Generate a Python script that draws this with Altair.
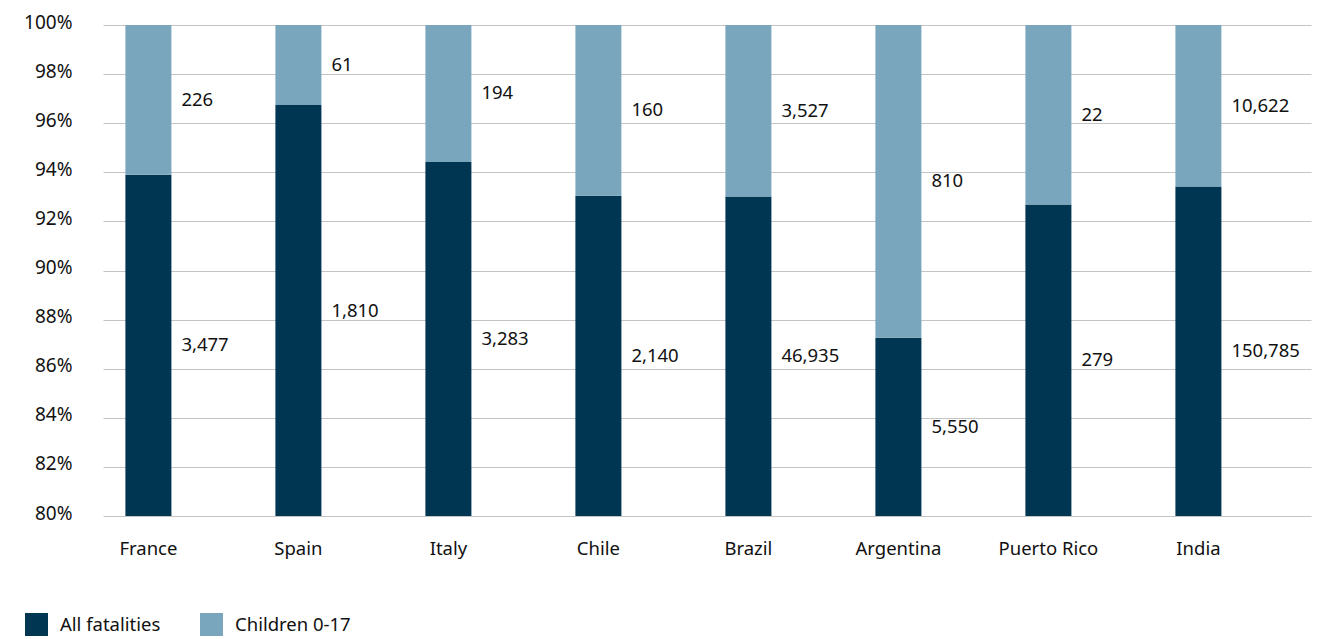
import altair as alt
import pandas as pd

# Countries and fatality counts split into adults (all fatalities) and children
countries = ["France", "Spain", "Italy", "Chile", "Brazil", "Argentina", "Puerto Rico", "India"]
all_fatalities = [3477, 1810, 3283, 2140, 46935, 5550, 279, 150785]
children = [226, 61, 194, 160, 3527, 810, 22, 10622]

series = ["All fatalities", "Children 0-17"]
colors = ["#003652", "#7aa6bd"]
y_ticks = [0.80, 0.82, 0.84, 0.86, 0.88, 0.90, 0.92, 0.94, 0.96, 0.98, 1.00]
y_floor = 0.80

FONT = "Noto Sans"
FS = 18.5
INK = "#111111"

rows = []
for c, a, k in zip(countries, all_fatalities, children):
    total = a + k
    share = a / total
    rows.append({"country": c, "series": series[0], "value": a,
                 "lo": 0.0, "hi": share,
                 "mid": (y_floor + share) / 2,
                 "label": f"{a:,}"})
    rows.append({"country": c, "series": series[1], "value": k,
                 "lo": share, "hi": 1.0,
                 "mid": (share + 1.0) / 2,
                 "label": f"{k:,}"})
df = pd.DataFrame(rows)

x_enc = alt.X(
    "country:N",
    sort=countries,
    title=None,
    scale=alt.Scale(paddingInner=0.6933, paddingOuter=0.3733, align=0.2),
    axis=alt.Axis(labelAngle=0, ticks=False, domain=False, grid=False, labelPadding=23,
                  labelFont=FONT, labelFontSize=FS, labelColor=INK),
)

y_scale = alt.Scale(domain=[y_floor, 1.0], clamp=True, nice=False, zero=False)

bars = alt.Chart(df).mark_bar().encode(
    x=x_enc,
    y=alt.Y("lo:Q", scale=y_scale, title=None,
            axis=alt.Axis(values=y_ticks, format=".0%", ticks=False, domain=False,
                          grid=True, gridColor="#c4c4c4", gridWidth=1.2,
                          labelPadding=31, labelOffset=-3,
                          labelFont=FONT, labelFontSize=19, labelColor=INK)),
    y2="hi:Q",
    color=alt.Color("series:N", scale=alt.Scale(domain=series, range=colors),
                    sort=series,
                    legend=alt.Legend(title=None, orient="none", direction="horizontal",
                                      legendX=-78, legendY=588,
                                      symbolType="square", symbolSize=529,
                                      symbolStrokeWidth=0, labelOffset=12,
                                      columnPadding=39, padding=0,
                                      labelFont=FONT, labelFontSize=FS,
                                      labelColor=INK)),
    order=alt.Order("lo:Q"),
)

labels = alt.Chart(df).mark_text(
    align="left", baseline="middle", dx=33, font=FONT, fontSize=FS, color=INK
).encode(
    x=alt.X("country:N", sort=countries),
    y=alt.Y("mid:Q", scale=y_scale),
    text="label:N",
)

chart = alt.layer(bars, labels).properties(
    width=1208,
    height=491,
    autosize=alt.AutoSizeParams(type="none"),
    padding={"left": 103, "top": 25, "right": 24, "bottom": 123},
).configure(background="white").configure_view(stroke=None)

chart.save("out.html", embed_options={"renderer": "svg", "actions": False})
